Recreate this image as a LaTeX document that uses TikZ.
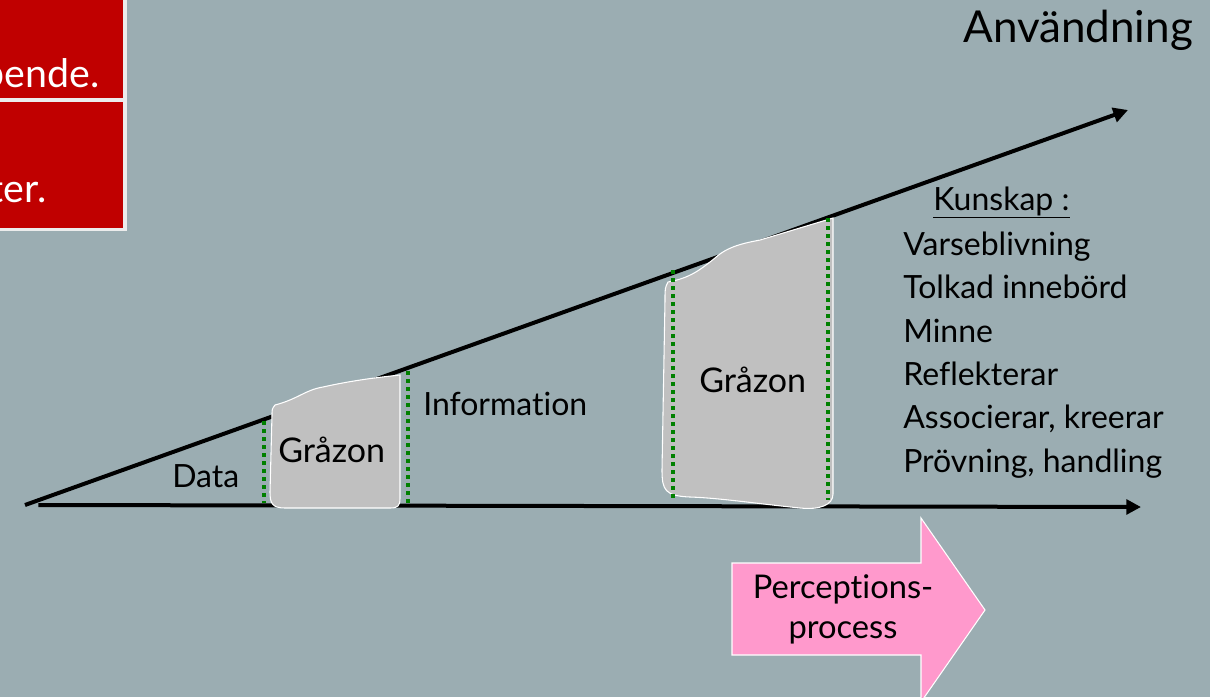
\documentclass[tikz,border=0pt]{standalone}
\usepackage{fontspec}
\setmainfont{Lato}[Ligatures=CommonOff]
\usetikzlibrary{arrows.meta}
\definecolor{slate}{HTML}{9BADB2}
\definecolor{zone}{HTML}{C0C0C0}
\definecolor{alert}{HTML}{C00000}
\definecolor{rim}{HTML}{ECECEC}
\definecolor{pinkarrow}{HTML}{FF99CC}
\definecolor{limit}{HTML}{008000}

\begin{document}
\begin{tikzpicture}[x=0.75pt,y=-0.75pt,
  lbl/.style={inner sep=0pt,anchor=base west,font=\fontsize{24}{28}\selectfont},
  big/.style={inner sep=0pt,font=\fontsize{33}{40}\selectfont},
  axis/.style={line width=3pt,-{Triangle[length=11pt,width=11pt]}},
  border/.style={limit,line width=3pt,dash pattern=on 3pt off 3pt},
  zonefill/.style={fill=zone,draw=white,line width=0.8pt},
]
  \path[use as bounding box,clip] (0,0) rectangle (1210,697);
  \fill[slate] (0,0) rectangle (1210,697);

  % red boxes, cut by the slide edge
  \fill[rim] (-5,-5) rectangle (127,231);
  \fill[alert] (-5,-5) rectangle (123,98);
  \fill[alert] (-5,102) rectangle (123,228);
  \node[big,white,anchor=base east,font=\fontsize{29.5}{36}\selectfont] (redtop) at (100,87) {pende.};
  \node[big,white,anchor=base east,font=\fontsize{29.5}{36}\selectfont] (redbot) at (47,202) {ter.};

  % axes
  \coordinate (origin) at (25,505);
  \coordinate (xend) at (1141,507);
  \coordinate (uend) at (1128,110);
  \draw[axis] ([xshift=10]origin.center) -- (xend);
  \draw[axis] (origin) -- (uend);

  % grey zones
  \fill[zonefill] (275,405) .. controls (298,399) and (305,390) .. (323,387)
    .. controls (350,381) and (372,378) .. (400,375) -- (400,498)
    .. controls (400,506) and (398,508) .. (390,508) -- (285,508)
    .. controls (272,508) and (270,503) .. (270,492) -- (272,415)
    .. controls (272,409) .. cycle;
  \fill[zonefill] (668,282) .. controls (690,278) and (700,270) .. (715,258)
    .. controls (728,246) and (745,243) .. (760,240) -- (833,218) -- (833,494)
    .. controls (833,505) and (820,510) .. (800,508)
    .. controls (760,504) and (720,498) .. (690,497)
    .. controls (665,496) and (662,490) .. (662,470) -- (665,300)
    .. controls (665,288) .. cycle;

  \coordinate (b1t) at (264,421); \coordinate (b1b) at (264,503);
  \coordinate (b2t) at (408,371); \coordinate (b2b) at (408,503);
  \coordinate (b3t) at (673,270); \coordinate (b3b) at (673,500);
  \coordinate (b4t) at (828,218); \coordinate (b4b) at (828,500);
  \draw[border] (b1t) -- (b1b);
  \draw[border] (b2t) -- (b2b);
  \draw[border] (b3t) -- (b3b);
  \draw[border] (b4t) -- (b4b);

  % labels
  \node[lbl] (data) at (172,487) {Data};
  \node[lbl,font=\fontsize{25.5}{30}\selectfont] (gz1) at (278,462) {Gråzon};
  \node[lbl] (info) at (423,415) {Information};
  \node[lbl,font=\fontsize{25.5}{30}\selectfont] (gz2) at (699,392) {Gråzon};
  \node[big,anchor=base west] (use) at (963,42) {Användning};

  \node[lbl] (know) at (933,210) {\underline{Kunskap :}};
  \node[lbl] (k1) at (903,255) {Varseblivning};
  \node[lbl] (k2) at (903,298) {Tolkad innebörd};
  \node[lbl] (k3) at (903,342) {Minne};
  \node[lbl] (k4) at (903,385) {Reflekterar};
  \node[lbl] (k5) at (903,428) {Associerar, kreerar};
  \node[lbl] (k6) at (903,472) {Prövning, handling};

  % perception arrow
  \fill[pinkarrow,draw=white,line width=0.8pt] (732,563) -- (921,563) -- (921,518)
    -- (985,610) -- (921,702) -- (921,655) -- (732,655) -- cycle;
  \node[inner sep=0pt,align=center,font=\fontsize{24.5}{30}\selectfont] (perc) at (843,609)
    {Perceptions-\\process};
\end{tikzpicture}
\end{document}
